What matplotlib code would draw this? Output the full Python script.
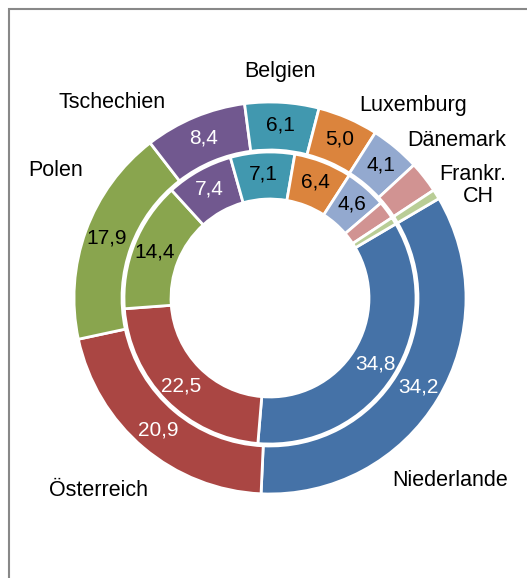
import numpy as np
import matplotlib
matplotlib.use("Agg")
import matplotlib.pyplot as plt
from matplotlib.patches import Rectangle

plt.rcParams['font.family'] = ['Liberation Sans', 'DejaVu Sans']

categories = ["Niederlande", "Österreich", "Polen", "Tschechien", "Belgien",
              "Luxemburg", "Dänemark", "Frankr.", "CH"]
outer_values = [34.2, 20.9, 17.9, 8.4, 6.1, 5.0, 4.1, 2.6, 0.8]
inner_values = [34.8, 22.5, 14.4, 7.4, 7.1, 6.4, 4.6, 2.0, 0.8]
show_value = [True, True, True, True, True, True, True, False, False]
colors = ["#4572A7", "#AA4643", "#89A54E", "#71588F", "#4198AF",
          "#DB843D", "#93A9CF", "#D19392", "#B9CD96"]
value_text_colors = ["white", "white", "black", "white", "black",
                     "black", "black", "black", "black"]

W, H = 527, 578
fig = plt.figure(figsize=(W / 100, H / 100), dpi=100)
ax = fig.add_axes([0, 0, 1, 1])
ax.set_axis_off()

# pixel geometry -> data units
cx, cy, R = 270, 298, 196.0

start = 30.5
ax.pie(outer_values, radius=1.0, colors=colors, startangle=start, counterclock=False,
       wedgeprops=dict(width=0.245, edgecolor='white', linewidth=2))
ax.pie(inner_values, radius=0.745, colors=colors, startangle=start, counterclock=False,
       wedgeprops=dict(width=0.24, edgecolor='white', linewidth=2))
ax.set_xlim(-cx / R, (W - cx) / R)
ax.set_ylim(-(H - cy) / R, cy / R)
ax.set_aspect('equal')

def fmt(v):
    return f"{v:.1f}".replace('.', ',')

def add_values(values, r_lab):
    total = sum(values)
    cum = 0.0
    for v, show, tc in zip(values, show_value, value_text_colors):
        mid = start - (cum + v / 2) / total * 360
        cum += v
        if not show:
            continue
        a = np.deg2rad(mid)
        ax.text(r_lab * np.cos(a), r_lab * np.sin(a), fmt(v), ha='center', va='center',
                fontsize=15, color=tc)

add_values(outer_values, 0.885)
add_values(inner_values, 0.635)

# category labels (pixel positions of label centres)
label_pos = {
    "Niederlande": (450, 480),
    "Österreich": (99, 490),
    "Polen": (56, 170),
    "Tschechien": (112, 103),
    "Belgien": (280, 72),
    "Luxemburg": (413, 106),
    "Dänemark": (457, 141),
    "Frankr.": (473, 174),
    "CH": (478, 196),
}
for name in categories:
    px, py = label_pos[name]
    ax.text((px - cx) / R, (cy - py) / R, name, ha='center', va='center',
            fontsize=15.5, color='black')

# chart-area frame (top and left edges visible)
fig.patches.append(Rectangle((9 / W, -0.1), 1.2, (H - 9) / H + 0.1,
                             transform=fig.transFigure, fill=False,
                             edgecolor='#888888', linewidth=1.5))

fig.savefig("out.png", dpi=100, facecolor='white')
